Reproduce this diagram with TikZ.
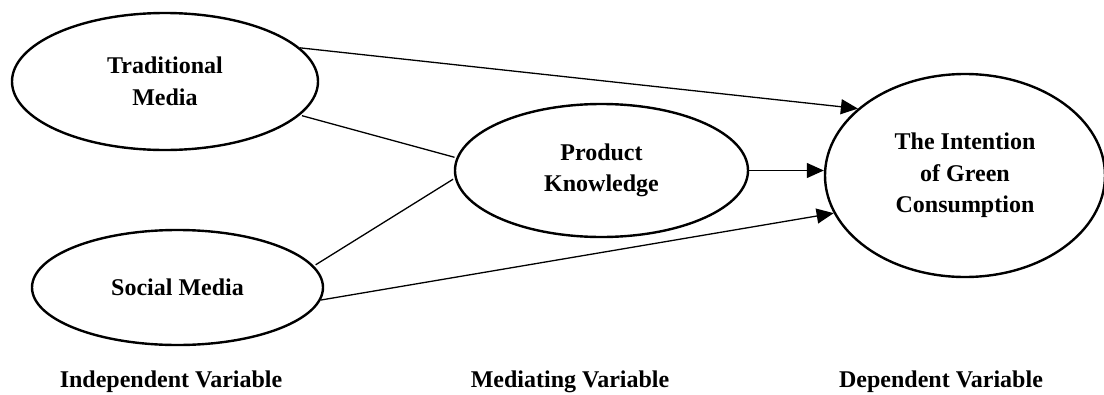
\documentclass[tikz,border=0pt]{standalone}
\usepackage{fontspec}
\setmainfont{Liberation Serif}
\usetikzlibrary{shapes.geometric,arrows.meta}
\begin{document}
\begin{tikzpicture}[x=1pt,y=-1pt,
  var/.style={draw,ellipse,line width=2.4pt,inner sep=0pt,align=center,font=\fontsize{24}{31.5}\selectfont\bfseries},
  link/.style={line width=1.3pt,shorten <=2pt,shorten >=2pt},
  arr/.style={line width=1.3pt,-{Triangle[length=17pt,width=15pt]}},
  caption/.style={anchor=base,font=\fontsize{24}{29}\selectfont\bfseries}]
\useasboundingbox (0,0) rectangle (1104,394);
\node[var,minimum width=306pt,minimum height=137pt] (tm) at (165,81.5) {Traditional\\Media};
\node[var,minimum width=291pt,minimum height=115pt] (sm) at (177.5,287.5) {Social Media};
\node[var,minimum width=293pt,minimum height=133pt] (pk) at (601.5,170.5) {Product\\Knowledge};
\node[var,minimum width=280pt,minimum height=203pt] (int) at (965,175.5) {The Intention\\of Green\\Consumption};
\draw[arr] (tm.14.6) -- (int.148.8);
\draw[link] (tm.-14.2) -- (pk.175.6);
\draw[link] (sm.9.3) -- (pk.-177.5);
\draw[arr] (sm.-5.6) -- (int.-164.1);
\draw[arr] (pk.east) -- (pk.east -| int.west);
\node[caption] (iv) at (171,387) {Independent Variable};
\node[caption] (mv) at (570,387) {Mediating Variable};
\node[caption] (dv) at (941,387) {Dependent Variable};
\end{tikzpicture}
\end{document}
